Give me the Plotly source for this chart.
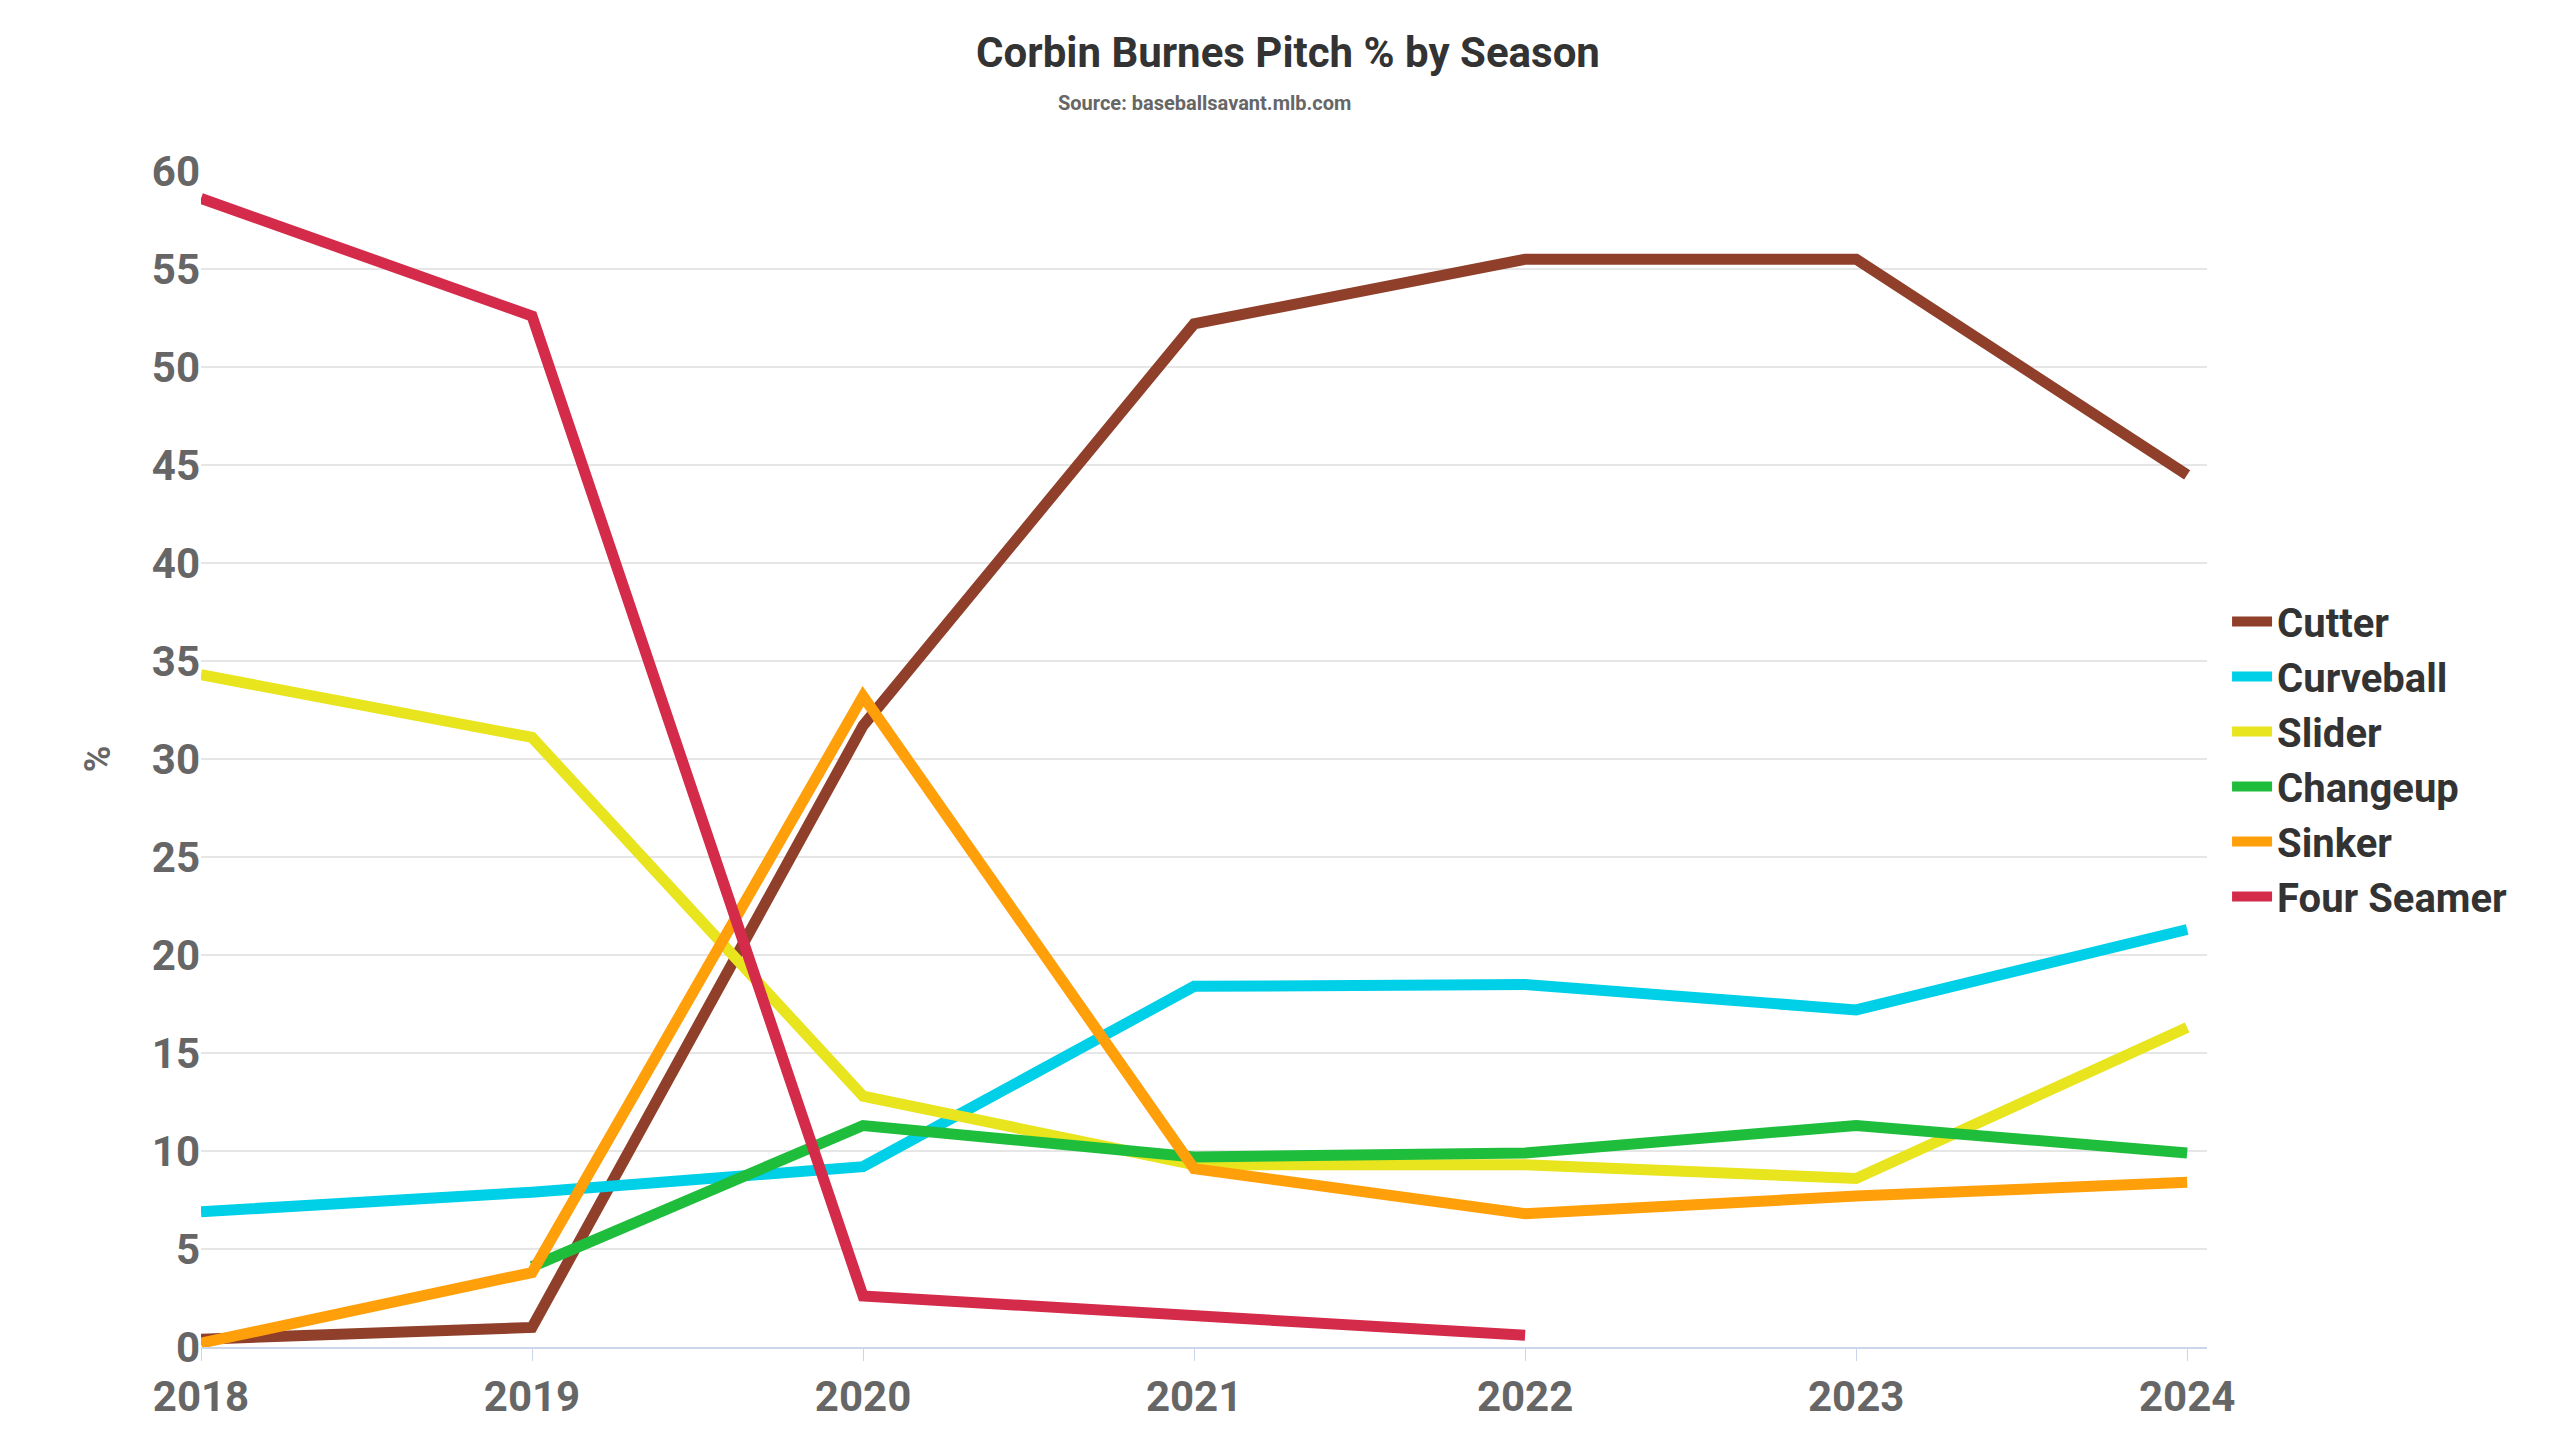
import plotly.graph_objects as go

# -----------------------------
# Data
# -----------------------------
seasons = [2018, 2019, 2020, 2021, 2022, 2023, 2024]
cutter = [0.4, 1.0, 31.7, 52.2, 55.5, 55.5, 44.5]
curveball = [6.9, 7.9, 9.2, 18.4, 18.5, 17.2, 21.3]
slider = [34.3, 31.1, 12.8, 9.3, 9.3, 8.6, 16.3]
changeup = [None, 4.1, 11.3, 9.7, 9.9, 11.3, 9.9]
sinker = [0.2, 3.8, 33.2, 9.1, 6.8, 7.7, 8.4]
four_seamer = [58.6, 52.6, 2.6, 1.6, 0.6, None, None]

series = [
    ("Cutter", cutter, "#8f3f2a"),
    ("Curveball", curveball, "#00cfe8"),
    ("Slider", slider, "#e8e41e"),
    ("Changeup", changeup, "#1ebd3c"),
    ("Sinker", sinker, "#ff9f0a"),
    ("Four Seamer", four_seamer, "#d42b4a"),
]

FONT = "Roboto"
GREY = "#666666"

fig = go.Figure()
for name, vals, color in series:
    fig.add_trace(go.Scatter(
        x=seasons, y=vals, name=name, mode="lines",
        line=dict(color=color, width=11),
    ))

fig.update_layout(
    width=2560, height=1440,
    paper_bgcolor="white", plot_bgcolor="white",
    font=dict(family=FONT, color=GREY),
    title=dict(
        text="Corbin Burnes Pitch % by Season",
        x=0.5, y=1 - 44 / 1440, xanchor="center", yanchor="middle",
        yref="container",
        font=dict(size=42, color="#333333", weight="bold"),
    ),
    margin=dict(l=193, r=361, t=163, b=101),
    legend=dict(
        x=1.01, y=0.5, xanchor="left", yanchor="middle",
        font=dict(size=40, color="#333333", family=FONT, weight="bold"),
        itemwidth=40, tracegroupgap=0,
    ),
    showlegend=True,
)
fig.add_annotation(
    text="Source: baseballsavant.mlb.com", xref="paper", yref="paper",
    x=0.5, y=1 + 68 / 1176, xanchor="center", yanchor="middle",
    showarrow=False, font=dict(size=20, color=GREY, weight="bold"),
)
fig.update_xaxes(
    range=[2018, 2024.06], tickvals=seasons, showgrid=False,
    showline=True, linecolor="#ccd6eb", linewidth=2,
    ticks="outside", tickcolor="#ccd6eb", ticklen=12,
    tickfont=dict(size=42, color=GREY, family=FONT, weight="bold"),
)
fig.update_yaxes(
    range=[0, 60], dtick=5, gridcolor="#e6e6e6", gridwidth=2,
    zeroline=False,
    title=dict(text="%", font=dict(size=36, color=GREY, weight="bold"), standoff=30),
    tickfont=dict(size=42, color=GREY, family=FONT, weight="bold"),
)

fig.write_html("out.html")
